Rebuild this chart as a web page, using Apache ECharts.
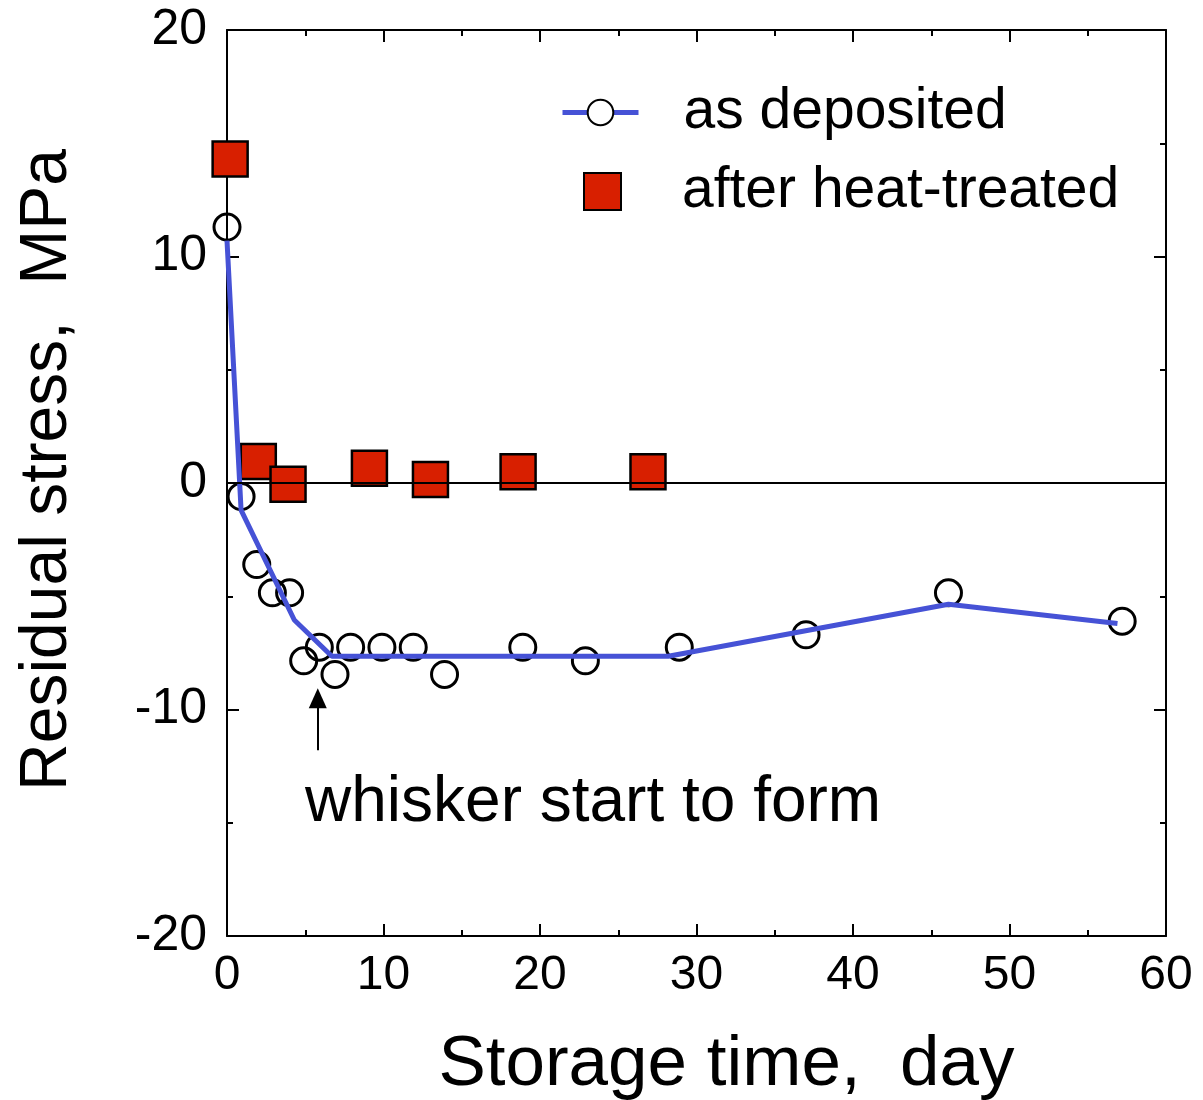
<!DOCTYPE html>
<html>
<head>
<meta charset="utf-8">
<script src="https://cdn.jsdelivr.net/npm/echarts@6/dist/echarts.min.js"></script>
<style>html,body{margin:0;padding:0;background:#fff}#c{width:1203px;height:1100px}</style>
</head>
<body>
<div id="c"></div>
<script>
// ---- data ----
const asDepX = [0, 0.9, 1.9, 2.9, 4.0, 4.9, 5.9, 6.9, 7.9, 9.9, 11.9, 13.9, 18.9, 22.9, 28.9, 37.0, 46.1, 57.2];
const asDepY = [11.3, -0.6, -3.6, -4.85, -4.85, -7.85, -7.25, -8.45, -7.25, -7.25, -7.25, -8.45, -7.25, -7.85, -7.25, -6.7, -4.85, -6.1];
const fitX = [0, 0.9, 4.3, 6.7, 28.2, 46.1, 56.9];
const fitY = [10.7, -1.2, -6.05, -7.65, -7.65, -5.35, -6.2];
const heatX = [0.2, 2.0, 3.9, 9.1, 13.0, 18.6, 26.9];
const heatY = [14.3, 0.95, -0.05, 0.65, 0.15, 0.5, 0.5];
const arrowX = 5.8, arrowFromY = -11.8, arrowToY = -9.5;
const xTicks = {min: 0, max: 60, interval: 10};
const yTicks = {min: -20, max: 20, interval: 10};
const seriesNames = ['as deposited', 'after heat-treated'];
const annotation = 'whisker start to form';

const FONT = '"Liberation Sans", Arial, Helvetica, sans-serif';
const BLUE = '#4652d6';
const zip = (a, b) => a.map((v, i) => [v, b[i]]);

const axisCommon = {
  type: 'value',
  axisLine: {show: true, onZero: false, lineStyle: {color: '#000', width: 2}},
  axisTick: {show: true, inside: true, length: 12, lineStyle: {color: '#000', width: 2}},
  minorTick: {show: true, splitNumber: 2, length: 6, lineStyle: {color: '#000', width: 2}},
  splitLine: {show: false},
  minorSplitLine: {show: false}
};

const chart = echarts.init(document.getElementById('c'), null, {renderer: 'canvas'});
chart.setOption({
  backgroundColor: '#fff',
  animation: false,
  textStyle: {fontFamily: FONT},
  grid: {left: 227, top: 30, right: 37, bottom: 164, containLabel: false, outerBoundsMode: 'none'},
  legend: [
    {
      data: [seriesNames[0]], left: 555, top: 79, orient: 'vertical',
      itemWidth: 76, itemHeight: 32,
      lineStyle: {width: 5, color: BLUE},
      textStyle: {fontSize: 57, color: '#000', fontFamily: FONT, padding: [0, 0, 0, 40]}
    },
    {
      data: [{name: seriesNames[1], icon: 'rect'}], left: 578, top: 158, orient: 'vertical',
      itemWidth: 37, itemHeight: 37,
      textStyle: {fontSize: 57, color: '#000', fontFamily: FONT, padding: [0, 0, 0, 56]}
    }
  ],
  xAxis: [
    Object.assign({}, axisCommon, xTicks, {
      position: 'bottom',
      axisLabel: {fontSize: 48, color: '#000', margin: 16, fontFamily: FONT},
      name: 'Storage time,  day', nameLocation: 'middle', nameGap: 94,
      nameTextStyle: {fontSize: 71, color: '#000', fontFamily: FONT, padding: [0, 0, 0, 60]}
    }),
    Object.assign({}, axisCommon, xTicks, {position: 'top', axisLabel: {show: false}})
  ],
  yAxis: [
    Object.assign({}, axisCommon, yTicks, {
      position: 'left',
      axisLabel: {fontSize: 50, color: '#000', margin: 20, fontFamily: FONT},
      name: 'Residual stress,  MPa', nameLocation: 'middle', nameGap: 146, nameRotate: 90,
      nameTextStyle: {fontSize: 66, color: '#000', fontFamily: FONT, padding: [0, 0, 0, 26]}
    }),
    Object.assign({}, axisCommon, yTicks, {position: 'right', axisLabel: {show: false}})
  ],
  series: [
    {
      name: 'zero', type: 'line', data: [], silent: true, z: 1,
      markLine: {
        silent: true, symbol: ['none', 'none'], label: {show: false},
        lineStyle: {color: '#000', width: 2, type: 'solid'},
        data: [{yAxis: 0}]
      }
    },
    {
      name: seriesNames[0] + ' points', type: 'scatter', z: 2,
      symbol: 'circle', symbolSize: 26,
      itemStyle: {color: 'rgba(255,255,255,0)', borderColor: '#000', borderWidth: 3, opacity: 1},
      data: zip(asDepX, asDepY)
    },
    {
      name: seriesNames[1], type: 'scatter', z: 3,
      symbol: 'rect', symbolSize: 35,
      itemStyle: {color: '#d81f00', borderColor: '#000', borderWidth: 2.5, opacity: 1},
      data: zip(heatX, heatY)
    },
    {
      name: seriesNames[0], type: 'line', z: 4,
      symbol: 'circle', showSymbol: false, symbolSize: 24,
      itemStyle: {color: '#fff', borderColor: '#000', borderWidth: 3},
      lineStyle: {color: BLUE, width: 5},
      data: zip(fitX, fitY)
    },
    {
      name: 'arrow', type: 'line', data: [], silent: true, z: 5,
      markLine: {
        silent: true, label: {show: false},
        lineStyle: {color: '#000', width: 2, type: 'solid'},
        symbol: ['none', 'triangle'], symbolSize: [18, 20],
        data: [[{coord: [arrowX, arrowFromY]}, {coord: [arrowX, arrowToY]}]]
      }
    }
  ],
  graphic: [
    {
      type: 'text', left: 305, top: 771, z: 10,
      style: {text: annotation, fill: '#000', font: '64px ' + FONT}
    }
  ]
});
</script>
</body>
</html>
